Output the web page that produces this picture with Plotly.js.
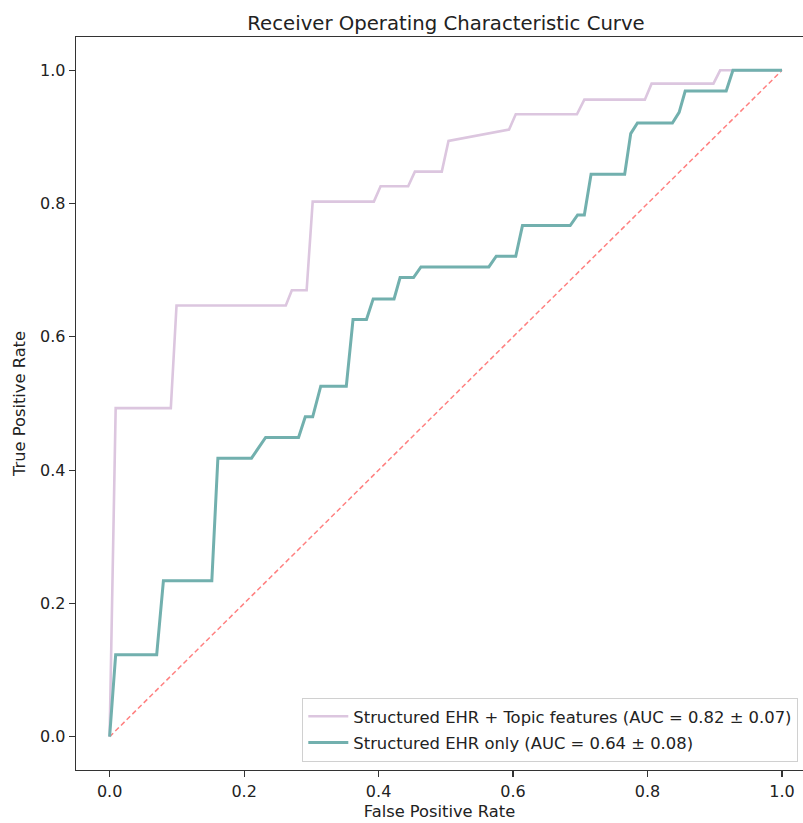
<!DOCTYPE html>
<html>
<head>
<meta charset="utf-8">
<script src="https://cdn.plot.ly/plotly-3.0.1.min.js"></script>
<style>html,body{margin:0;padding:0;background:#fff;}#chart{width:803px;height:823px;}</style>
</head>
<body>
<div id="chart"></div>
<script>
const topicFPR = [0, 0.009, 0.091, 0.0995, 0.262, 0.271, 0.293, 0.302, 0.393, 0.403, 0.444, 0.454, 0.494, 0.504, 0.594, 0.604, 0.695, 0.706, 0.796, 0.806, 0.898, 0.908, 1.0];
const topicTPR = [0, 0.493, 0.493, 0.647, 0.647, 0.670, 0.670, 0.803, 0.803, 0.826, 0.826, 0.848, 0.848, 0.894, 0.911, 0.934, 0.934, 0.956, 0.956, 0.980, 0.980, 1.0, 1.0];
const ehrFPR = [0, 0.009, 0.070, 0.080, 0.152, 0.161, 0.211, 0.232, 0.281, 0.291, 0.302, 0.314, 0.352, 0.362, 0.382, 0.392, 0.423, 0.432, 0.452, 0.463, 0.564, 0.575, 0.604, 0.614, 0.685, 0.696, 0.706, 0.716, 0.766, 0.775, 0.785, 0.837, 0.847, 0.856, 0.917, 0.927, 1.0];
const ehrTPR = [0, 0.123, 0.123, 0.234, 0.234, 0.418, 0.418, 0.449, 0.449, 0.480, 0.480, 0.526, 0.526, 0.626, 0.626, 0.657, 0.657, 0.689, 0.689, 0.705, 0.705, 0.721, 0.721, 0.767, 0.767, 0.783, 0.783, 0.844, 0.844, 0.905, 0.921, 0.921, 0.937, 0.969, 0.969, 1.0, 1.0];
const chanceX = [0, 1];
const chanceY = [0, 1];
const seriesNames = ["Structured EHR + Topic features (AUC = 0.82 ± 0.07)", "Structured EHR only (AUC = 0.64 ± 0.08)"];
const tickVals = [0, 0.2, 0.4, 0.6, 0.8, 1.0];
const tickText = ["0.0", "0.2", "0.4", "0.6", "0.8", "1.0"];

const font = "DejaVu Sans, sans-serif";
const data = [
  {x: chanceX, y: chanceY, mode: "lines", showlegend: false, hoverinfo: "skip",
   line: {color: "#ff8080", width: 1.5, dash: "5px,3px"}},
  {x: topicFPR, y: topicTPR, mode: "lines", name: seriesNames[0], legendgroup: "a",
   line: {color: "#dcc6df", width: 2.6}},
  {x: ehrFPR, y: ehrTPR, mode: "lines", name: seriesNames[1], legendgroup: "b",
   line: {color: "#72b0ae", width: 3}}
];
const layout = {
  width: 803, height: 823,
  margin: {l: 76, r: 0, t: 37, b: 53},
  paper_bgcolor: "#fff", plot_bgcolor: "#fff",
  font: {family: font, color: "#222", size: 16},
  title: {text: "Receiver Operating Characteristic Curve", font: {size: 19.7, color: "#222"},
          x: 0.509, xref: "paper", xanchor: "center", y: 1, yref: "paper", yanchor: "bottom", pad: {b: 7}},
  xaxis: {range: [-0.05, 1.0312], tickvals: tickVals, ticktext: tickText, showgrid: false, zeroline: false,
          showline: true, mirror: true, linecolor: "#333", linewidth: 1.3,
          ticks: "outside", ticklen: 6, tickcolor: "#333", tickwidth: 1.2,
          tickfont: {size: 16, color: "#222"},
          title: {text: "False Positive Rate", font: {size: 16.3, color: "#222"}, standoff: 6}},
  yaxis: {range: [-0.05, 1.05], tickvals: tickVals, ticktext: tickText, showgrid: false, zeroline: false,
          showline: true, mirror: false, linecolor: "#333", linewidth: 1.3,
          ticks: "outside", ticklen: 6, tickcolor: "#333", tickwidth: 1.2,
          tickfont: {size: 16, color: "#222"},
          title: {text: "True Positive Rate", font: {size: 16.3, color: "#222"}, standoff: 10}},
  legend: {x: 0.311, y: 0.011, xanchor: "left", yanchor: "bottom", bgcolor: "rgba(255,255,255,0.8)",
           bordercolor: "#d0d0d0", borderwidth: 1.2, font: {size: 16.4, color: "#222"},
           traceorder: "grouped", tracegroupgap: 2, itemwidth: 40}
};
Plotly.newPlot("chart", data, layout, {displayModeBar: false, staticPlot: true});
</script>
</body>
</html>
